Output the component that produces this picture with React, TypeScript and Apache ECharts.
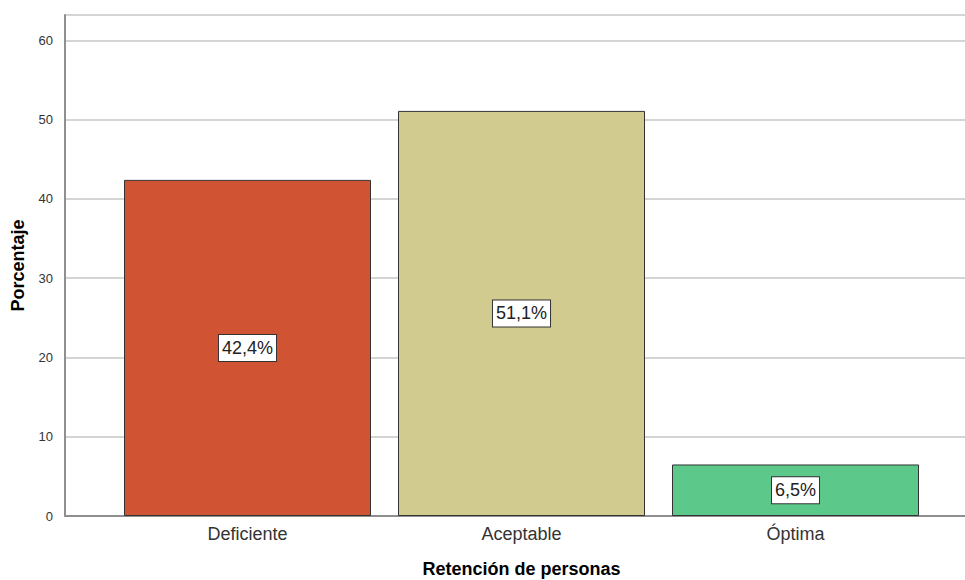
import React, { useEffect, useRef } from "react";
import * as echarts from "echarts";

const categories = ["Deficiente", "Aceptable", "Óptima"];
const values = [42.4, 51.1, 6.5];
const valueLabels = ["42,4%", "51,1%", "6,5%"];
const barColors = ["#D05433", "#D1CB8F", "#5CC98A"];
const yTicks = [0, 10, 20, 30, 40, 50, 60];

export default function App() {
  const ref = useRef<HTMLDivElement>(null);
  useEffect(() => {
    if (!ref.current) return;
    const chart = echarts.init(ref.current, null, { renderer: "svg" });
    const font = "Arial, 'Liberation Sans', sans-serif";
    chart.setOption({
      animation: false,
      backgroundColor: "#ffffff",
      grid: [
        { left: 65, right: 0, top: 15, bottom: 64, outerBoundsMode: "none", containLabel: false },
        { left: 110.5, width: 822, top: 15, bottom: 64, outerBoundsMode: "none", containLabel: false },
      ],
      xAxis: [
        {
          type: "value",
          gridIndex: 0,
          min: 0,
          max: 1,
          axisLine: { show: true, onZero: false, lineStyle: { color: "#8f8f8f", width: 2 } },
          axisTick: { show: false },
          axisLabel: { show: false },
          splitLine: { show: false },
        },
        {
          type: "category",
          gridIndex: 1,
          data: categories,
          axisLine: { show: false },
          axisTick: { show: false },
          axisLabel: { color: "#333", fontSize: 18, fontFamily: font, margin: 9 },
          name: "Retención de personas",
          nameLocation: "middle",
          nameGap: 44,
          nameTextStyle: { color: "#000", fontSize: 18, fontWeight: "bold", fontFamily: font },
        },
      ],
      yAxis: [
        {
          type: "value",
          gridIndex: 0,
          min: 0,
          max: 63.2,
          interval: 10,
          axisLine: { show: true, lineStyle: { color: "#8f8f8f", width: 2 } },
          axisTick: { show: false },
          axisLabel: {
            color: "#333",
            fontSize: 13,
            fontFamily: font,
            margin: 12,
            formatter: (v: number) => (yTicks.includes(v) ? String(v) : ""),
          },
          splitLine: { show: true, lineStyle: { color: "#d4d4d4", width: 2 } },
          name: "Porcentaje",
          nameLocation: "middle",
          nameGap: 38,
          nameTextStyle: { color: "#000", fontSize: 18, fontWeight: "bold", fontFamily: font },
        },
        {
          type: "value",
          gridIndex: 1,
          min: 0,
          max: 63.2,
          show: false,
        },
      ],
      series: [
        {
          type: "bar",
          xAxisIndex: 1,
          yAxisIndex: 1,
          barWidth: 247,
          data: values.map((v, i) => ({
            value: v,
            itemStyle: { color: barColors[i], borderColor: "#333", borderWidth: 1 },
            label: { formatter: valueLabels[i] },
          })),
          label: {
            show: true,
            position: "inside",
            color: "#222",
            fontSize: 18,
            fontFamily: font,
            backgroundColor: "#fff",
            borderColor: "#333",
            borderWidth: 1,
            padding: [5, 3, 3, 3],
          },
        },
      ],
    });
    return () => chart.dispose();
  }, []);
  return <div ref={ref} style={{ width: 965, height: 580, position: "absolute", left: 0, top: 0 }} />;
}
